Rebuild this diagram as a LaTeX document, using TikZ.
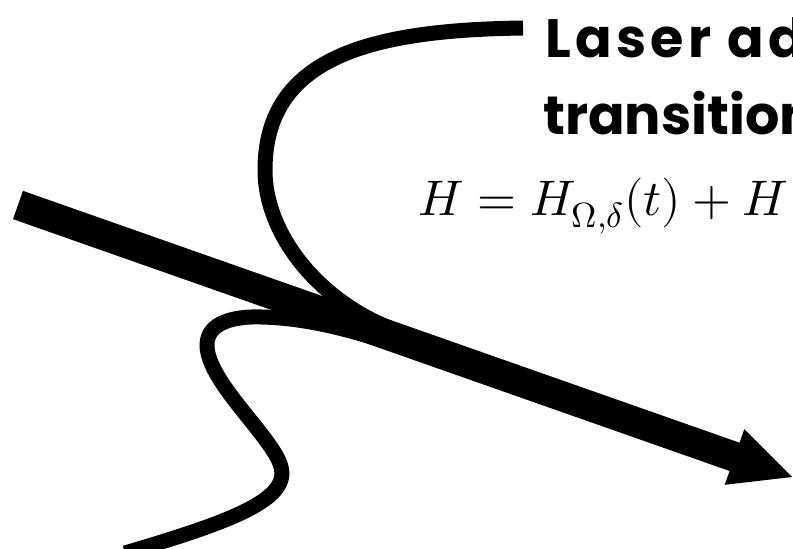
\documentclass[tikz,border=0pt]{standalone}
\usepackage{fontspec}
\usepackage{unicode-math}
\newfontfamily\popfont{Poppins}
\begin{document}
\begin{tikzpicture}[x=1pt,y=-1pt,
  wire/.style={line width=15pt,line cap=butt,line join=round},
  shaft/.style={line width=30pt,line cap=butt},
  head/.style={fill=black,draw=none},
  title/.style={font=\popfont\bfseries\fontsize{54}{64}\selectfont,anchor=base west,inner sep=0pt},
  eq/.style={font=\fontsize{50}{60}\selectfont,anchor=base west,inner sep=0pt}]
\useasboundingbox (0,0) rectangle (793,549);
% coordinates
\coordinate (s0) at (18,205);
\coordinate (s1) at (735,457);
\coordinate (hA) at (744.3,429.2);
\coordinate (hB) at (792,477);
\coordinate (hC) at (724.7,484.8);
\coordinate (t0) at (523,28);
\coordinate (t1) at (265,170);
\coordinate (t2) at (400,332);
\coordinate (b0) at (125,553);
\coordinate (b1) at (281,467);
\coordinate (b2) at (207,345);
\coordinate (b3) at (262,317);
\coordinate (b4) at (400,346);
% top curve
\draw[wire] (t0) .. controls (375,30) and (265,55) .. (t1)
  .. controls (265,235) and (320,304) .. (t2);
% bottom curve
\draw[wire] (b0) .. controls (230,522) and (290,500) .. (b1)
  .. controls (274,438) and (207,382) .. (b2)
  .. controls (207,322) and (235,316) .. (b3)
  .. controls (300,318) and (340,326) .. (b4);
% main arrow
\draw[shaft] (s0) -- (s1);
\fill[head] (hA) -- (hB) -- (hC) -- cycle;
% texts
\node[title] (ttl1) at (545,57) {\addfontfeatures{LetterSpace=8}Laser ad};
\node[title] (ttl2) at (543,134) {transition};
\node[eq] (eqn) at (418,215) {$H = H_{\Omega,\delta}(t) + H$};
\end{tikzpicture}
\end{document}
